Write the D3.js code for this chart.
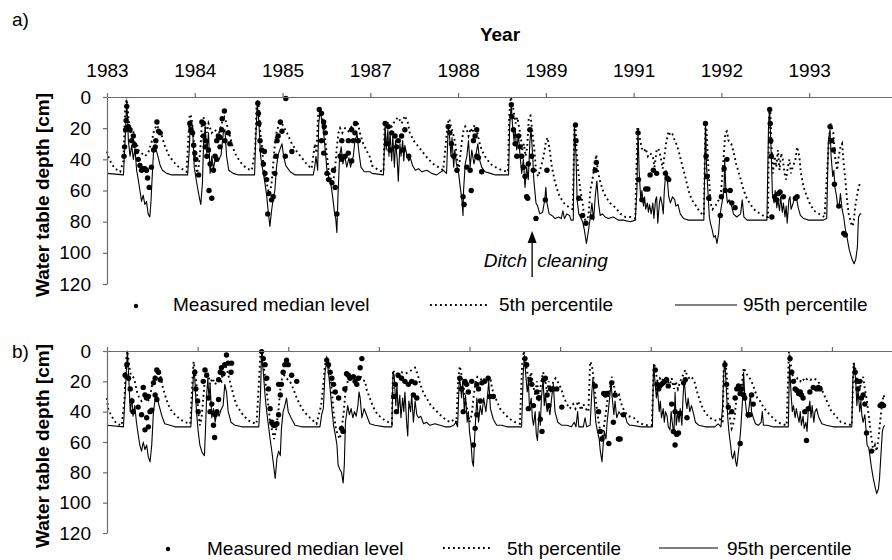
<!DOCTYPE html>
<html><head><meta charset="utf-8">
<script src="https://cdn.jsdelivr.net/npm/d3@7"></script>
<style>
body{margin:0;background:#fff}
svg text{font-family:"Liberation Sans",Arial,Helvetica,sans-serif;fill:#000}
</style>
</head><body>
<svg id="chart" width="892" height="560"></svg>
<script>
// ---------- DATA (x = months since Jan 1983, y = water table depth in cm) ----------
const tickMonths = [0,16,32,48,64,80,96,112,128];
const tickLabels = ["1983","1984","1985","1987","1988","1989","1991","1992","1993"];
const depthTicks = [0,20,40,60,80,100,120];
const seriesNames = ["Measured median level","5th percentile","95th percentile"];
const ditchMonth = 77.5;

// Panel a) 95th percentile
const p95A = [[0,49],[3.0,50],[3.3,28],[3.6,2],[3.9,28],[4.2,38],[4.5,31],[4.8,40],[5.1,33],[5.4,47],[5.7,53],[6.0,60],[6.3,67],[6.6,63],[6.9,69],[7.2,67],[7.5,75],[7.8,77],[8.0,68],[8.3,47],[8.5,34],[8.8,32],[9.2,37],[9.7,44],[10.1,47],[10.9,49],[11.8,50],[14.7,50],[15.0,34],[15.2,15],[15.6,19],[15.9,45],[16.4,56],[16.8,64],[17.1,69],[17.4,55],[17.6,30],[17.9,19],[18.2,36],[18.5,23],[18.8,49],[19.1,38],[19.4,46],[19.8,39],[20.3,41],[20.8,37],[21.2,23],[21.5,21],[21.8,38],[22.2,47],[23.0,49],[24.0,50],[26.9,50],[27.1,28],[27.4,4],[27.7,17],[28.0,38],[28.3,45],[28.7,53],[29.1,63],[29.4,74],[29.7,83],[30.0,73],[30.3,65],[30.6,60],[30.9,45],[31.2,37],[31.6,33],[31.9,30],[32.2,38],[32.6,44],[33.4,48],[34.3,50],[37.6,50],[37.9,44],[38.1,38],[38.4,47],[38.6,17],[38.9,8],[39.2,17],[39.5,23],[39.8,35],[40.1,47],[40.5,52],[40.9,58],[41.2,66],[41.5,75],[41.7,78],[41.9,87],[42.1,64],[42.4,38],[42.7,32],[43.0,43],[43.3,37],[43.7,45],[44.1,39],[44.4,45],[44.9,38],[45.2,28],[45.6,24],[45.9,35],[46.3,45],[46.9,48],[48.0,48],[48.3,49],[50.4,50],[50.7,17],[50.9,34],[51.2,21],[51.4,38],[51.6,23],[51.9,41],[52.1,25],[52.4,45],[52.6,28],[52.9,40],[53.1,54],[53.4,30],[53.6,38],[53.9,28],[54.1,41],[54.3,31],[54.7,38],[55.0,41],[55.3,39],[55.7,44],[56.2,47],[56.8,46],[57.4,48],[58.3,47],[59.2,49],[60.1,50],[61.3,47],[61.9,49],[62.2,19],[62.4,23],[62.7,38],[62.9,26],[63.2,45],[63.4,34],[63.7,43],[64.1,49],[64.4,58],[64.7,66],[64.9,76],[65.0,60],[65.3,43],[65.6,38],[65.9,28],[66.2,45],[66.5,34],[66.9,43],[67.2,38],[67.6,30],[67.9,40],[68.3,45],[68.9,48],[69.9,49],[70.8,50],[73.2,50],[73.4,19],[73.7,4],[73.9,17],[74.2,28],[74.4,21],[74.7,34],[75.0,24],[75.3,38],[75.6,49],[75.9,40],[76.2,58],[76.5,45],[76.8,53],[77.1,28],[77.3,21],[77.6,38],[77.8,53],[78.2,68],[78.5,70],[78.9,75],[79.4,74],[79.8,66],[80.0,58],[80.2,68],[80.6,75],[81.1,76],[81.7,78],[82.3,77],[82.8,78],[83.1,73],[83.4,78],[83.8,75],[84.3,76],[84.6,79],[85.0,79],[85.2,19],[85.5,38],[85.7,66],[86.0,75],[86.3,77],[86.7,80],[87.0,85],[87.4,94],[87.8,85],[88.1,77],[88.4,68],[88.7,79],[89.0,64],[89.3,54],[89.6,68],[89.9,76],[90.3,75],[90.8,77],[91.4,78],[92.3,77],[93.2,79],[94.1,79],[95.4,80],[96.3,79],[96.6,60],[96.8,21],[97.0,47],[97.3,66],[97.5,60],[97.8,70],[98.0,64],[98.2,72],[98.5,68],[98.7,74],[98.9,69],[99.2,75],[99.5,68],[99.7,78],[100.0,66],[100.2,64],[100.4,81],[100.7,68],[100.9,64],[101.2,69],[101.4,75],[101.6,60],[101.9,47],[102.1,51],[102.4,64],[102.7,68],[103.1,64],[103.5,66],[103.7,70],[104.1,69],[104.5,75],[105.1,78],[106.0,79],[108.8,79],[109.1,17],[109.3,45],[109.6,64],[109.8,77],[110.0,81],[110.3,85],[110.6,90],[110.9,89],[111.2,94],[111.5,87],[111.7,77],[112.0,70],[112.2,66],[112.5,58],[112.6,40],[112.8,58],[113.1,68],[113.4,66],[113.8,69],[114.2,75],[114.8,77],[115.5,75],[115.8,66],[116.1,77],[116.7,79],[120.3,79],[120.6,17],[120.8,8],[121.1,38],[121.3,62],[121.6,68],[121.8,60],[122.1,71],[122.3,66],[122.6,73],[122.8,64],[123.1,74],[123.3,68],[123.6,77],[123.8,70],[124.0,81],[124.3,66],[124.5,64],[124.7,72],[125.0,69],[125.4,64],[125.7,65],[126.0,71],[126.4,76],[127.0,78],[127.9,79],[130.6,79],[131.2,78],[131.5,28],[131.8,21],[132.0,38],[132.3,51],[132.5,47],[132.7,58],[133.0,64],[133.2,70],[133.5,69],[133.7,62],[134.0,72],[134.3,77],[134.6,85],[134.9,90],[135.3,98],[135.8,104],[136.2,107],[136.5,104],[136.8,96],[136.9,85],[137.0,77],[137.3,75],[137.5,75]];

// Panel a) 5th percentile
const p5A = [[0,35],[0.2,38],[0.85,43],[1.5,46],[2.4,48],[3.0,41],[3.3,8],[3.6,0],[3.9,13],[4.2,21],[4.5,25],[4.8,22],[5.1,31],[5.4,29],[5.7,34],[6.3,36],[6.9,38],[7.5,36],[8.2,28],[8.6,21],[9.1,18],[9.5,21],[10.0,25],[10.6,32],[11.2,37],[11.8,40],[12.7,44],[13.6,46],[14.5,48],[14.8,28],[15.1,11],[15.4,13],[15.7,23],[16.0,38],[16.4,49],[16.7,45],[17.0,34],[17.3,17],[17.6,13],[17.9,19],[18.2,23],[18.5,17],[19.1,23],[19.7,21],[20.3,25],[20.9,17],[21.4,13],[21.8,17],[22.4,25],[23.0,33],[23.6,38],[24.6,43],[25.5,46],[26.4,47],[27.0,34],[27.3,2],[27.6,4],[27.9,21],[28.2,30],[28.5,43],[28.8,51],[29.1,55],[29.4,60],[29.7,62],[30.0,55],[30.3,43],[30.6,30],[30.9,23],[31.2,19],[31.7,16],[32.2,19],[32.8,23],[33.7,30],[34.6,35],[35.5,39],[36.4,43],[37.3,46],[37.9,30],[38.2,36],[38.5,10.5],[38.8,7],[39.1,12],[39.5,17],[39.8,28],[40.1,38],[40.4,47],[40.7,51],[41.0,55],[41.3,53],[41.6,45],[41.9,32],[42.2,23],[42.5,20],[42.9,23],[43.4,20],[44.0,22],[44.6,19],[45.2,17],[45.7,16],[46.1,23],[46.7,30],[47.4,35],[48.0,39],[48.3,44],[49.5,47],[50.4,48],[50.6,19],[50.8,16],[51.3,17],[51.9,19],[52.5,15],[53.1,13],[53.7,17],[54.3,12],[54.8,16],[55.2,23],[55.9,28],[56.8,32],[57.7,36],[58.6,40],[59.5,43],[60.4,45],[61.3,47],[62.1,17],[62.4,14],[62.7,19],[63.2,25],[63.5,30],[63.8,40],[64.1,47],[64.4,38],[64.7,28],[65.0,21],[65.3,19],[65.6,21],[65.9,25],[66.3,20],[66.6,23],[67.0,18],[67.4,21],[67.8,28],[68.3,34],[68.9,38],[69.9,43],[70.8,45],[72.0,47],[73.1,48],[73.3,13],[73.6,0],[73.9,4],[74.2,10.5],[74.5,17],[74.8,13],[75.1,19],[75.4,25],[75.7,34],[76.0,30],[76.3,38],[76.6,32],[76.9,13],[77.2,12],[77.5,21],[77.9,34],[78.2,47],[78.6,51],[79.1,45],[79.6,38],[80.0,29],[80.3,26],[80.7,34],[81.1,45],[81.7,55],[82.3,62],[82.9,66],[83.5,69],[84.3,71],[84.9,72],[85.2,21],[85.4,18],[85.6,34],[86.0,51],[86.3,60],[86.7,68],[87.0,77],[87.4,81],[87.8,75],[88.1,60],[88.5,53],[88.9,43],[89.2,37],[89.4,45],[89.8,53],[90.4,60],[90.9,64],[91.7,68],[92.7,71],[93.6,75],[94.5,77],[95.4,77],[96.3,78],[96.7,19],[96.9,21],[97.2,28],[97.5,33],[97.9,35],[98.2,33],[98.6,38],[99.0,36],[99.5,38],[99.8,45],[100.2,34],[100.5,33],[100.9,38],[101.3,46],[101.6,38],[102.0,28],[102.4,22],[102.7,25],[103.1,24],[103.5,28],[103.9,31],[104.3,36],[104.8,43],[105.4,51],[106.0,60],[106.6,66],[107.4,70],[108.1,74],[108.8,76],[109.1,16],[109.3,21],[109.5,38],[109.8,55],[110.0,68],[110.4,72],[110.8,70],[111.1,69],[111.5,66],[111.9,62],[112.2,49],[112.5,34],[112.7,23],[113.0,22],[113.3,28],[113.8,30],[114.2,35],[114.7,43],[115.3,50],[115.9,58],[116.5,64],[117.3,69],[118.2,73],[119.1,75],[120.0,77],[120.5,77],[120.7,10.5],[120.9,7],[121.1,28],[121.4,49],[121.7,38],[122.0,45],[122.3,34],[122.6,47],[122.9,36],[123.2,40],[123.5,49],[123.8,53],[124.1,45],[124.4,40],[124.7,49],[125.0,45],[125.5,40],[125.8,32],[126.2,38],[126.5,49],[127.0,58],[127.6,64],[128.2,69],[128.9,73],[129.8,75],[130.8,77],[131.6,28],[131.9,17],[132.1,19],[132.4,23],[132.7,38],[133.1,47],[133.4,38],[133.7,32],[134.0,30],[134.3,43],[134.6,53],[134.9,66],[135.2,75],[135.5,79],[135.8,83],[136.1,81],[136.4,70],[136.7,64],[137.0,58],[137.3,55]];

// Panel a) measured median level
const medA = [[3.6,6],[3.5,15],[3.4,21],[3.2,32],[3.1,38],[3.9,19],[4.2,21],[4.5,28],[4.8,25],[5.0,31],[5.4,35],[5.7,40],[6.0,44],[6.3,47],[6.6,46],[6.9,46],[7.2,47],[7.4,52],[7.7,58],[8.1,45],[8.5,34],[8.8,32],[8.9,28],[9.1,16],[9.4,22],[9.7,23],
[15.1,17],[15.3,21],[15.6,23],[15.8,31],[16.0,36],[16.2,40],[16.7,50],[17.3,16],[17.6,17],[17.6,25],[17.9,28],[17.9,32],[18.2,38],[18.5,34],[18.8,43],[18.6,60],[19.1,65],[19.4,47],[19.7,38],[20.0,28],[20.3,25],[20.6,26],[20.9,21],[21.0,14],[21.4,9],[21.5,28],[22.1,23],[22.4,30],[20.0,40],[20.6,32],
[27.5,4],[27.6,10.5],[27.7,17],[27.9,28],[28.2,34],[28.5,43],[28.7,35],[28.8,49],[29.1,53],[29.3,75],[29.5,62],[30.0,66],[30.3,64],[30.6,49],[30.8,38],[31.0,28],[31.2,25],[31.6,16],[31.9,22],[32.5,38],[33.7,35],[32.6,1],
[38.7,8],[39.1,10.5],[39.5,16],[39.6,19],[39.8,23],[39.1,28],[39.5,36],[40.1,49],[40.4,53],[41.0,55],[41.3,47],[41.6,58],[41.9,75],[42.5,38],[42.8,40],[43.4,38],[44.0,36],[44.6,41],[44.9,28],[45.2,23],[45.3,17],[44.6,21],[44.0,28],[45.8,28],[42.8,28],
[50.7,17],[51.3,19],[51.9,23],[52.5,25],[53.1,28],[53.7,25],[54.3,21],[55.0,38],[51.0,30],[51.6,34],[52.8,32],[54.0,34],
[62.2,19],[62.5,23],[62.8,30],[63.2,38],[63.8,47],[64.9,64],[65.1,69],[66.4,60],[66.2,47],[66.8,28],[67.1,25],[67.4,21],[67.7,39],[68.3,48],[65.6,45],[67.4,38],
[73.7,5],[73.8,12.6],[74.1,21],[74.4,30],[74.7,38],[75.0,25],[75.3,32],[75.6,38],[75.9,45],[76.2,51],[76.5,64],[76.8,43],[77.1,21],[77.4,38],[77.7,47],[78.2,78],[80.2,47],[79.9,66],[76.7,65],
[85.4,18],[85.5,28],[86.0,65],[86.7,76],[87.3,81],[89.0,47],[89.2,42],[88.4,77],
[96.8,23],[96.9,53],[97.5,66],[98.2,59],[98.6,59],[99.0,50],[99.6,47],[100.2,49],[101.8,49],[102.1,52],[102.4,53],
[109.1,17],[109.2,38],[109.4,51],[109.7,65],[111.8,76],[112.0,64],[112.5,46],[112.7,60],[113.0,40],[113.6,60],[113.9,68],[114.5,71],
[120.8,8],[120.9,17],[121.0,28],[121.1,38],[121.2,77],[121.7,64],[122.1,66],[122.4,62],[122.7,61],[123.3,64],[125.5,65],[125.8,64],
[131.8,19],[132.1,28],[132.4,34],[132.6,56],[133.4,70],[134.3,87.5],[134.6,88.5]];

// Panel b) 95th percentile
const p95B = [[0,49],[2.9,50],[3.2,29],[3.6,0],[3.9,22],[4.1,40],[4.4,31],[4.6,43],[4.9,36],[5.2,47],[5.5,55],[5.8,62],[6.1,66],[6.4,60],[6.7,65],[7.0,62],[7.3,70],[7.6,73],[7.9,62],[8.2,40],[8.5,32],[8.8,30],[9.2,36],[9.7,43],[10.2,48],[11.1,49],[12.0,50],[14.8,50],[15.1,29],[15.3,12.5],[15.5,18],[15.8,40],[16.1,53],[16.4,62],[16.8,67],[17.2,69],[17.4,51],[17.6,29],[17.8,18],[18.0,31],[18.2,22],[18.5,44],[18.8,38],[19.1,47],[19.4,40],[19.8,43],[20.1,39],[20.5,36],[20.8,22],[21.1,27],[21.4,40],[21.9,47],[22.6,49],[23.8,50],[26.8,50],[27.1,29],[27.3,0.4],[27.6,14],[27.9,29],[28.2,40],[28.5,49],[28.8,58],[29.1,66],[29.4,75],[29.7,84],[30.0,71],[30.3,66],[30.6,69],[30.8,51],[31.1,40],[31.4,36],[31.7,31],[32.0,40],[32.5,44],[33.2,49],[34.4,50],[37.6,50],[37.9,42],[38.2,38],[38.5,14],[38.8,6],[39.1,14],[39.4,25],[39.7,38],[40.0,49],[40.3,55],[40.6,62],[40.8,75],[41.1,78],[41.4,80],[41.7,87],[41.9,75],[42.1,47],[42.5,36],[42.8,42],[43.1,38],[43.4,44],[43.7,40],[44.0,43],[44.3,36],[44.5,27],[44.7,31],[45.0,44],[45.4,38],[45.9,43],[46.4,48],[47.3,49],[49.1,50],[50.3,50],[50.5,14],[50.7,16],[51.0,36],[51.2,22],[51.4,40],[51.7,29],[51.9,44],[52.2,31],[52.4,40],[52.6,27],[52.9,47],[53.1,56],[53.3,33],[53.6,40],[53.8,29],[54.1,47],[54.4,33],[54.7,42],[55.0,44],[55.4,43],[55.9,48],[56.4,47],[57.0,49],[57.9,48],[58.8,49],[59.7,50],[60.6,50],[61.2,49],[61.6,47],[61.9,50],[62.2,18],[62.4,22],[62.6,31],[62.8,20],[63.1,40],[63.3,29],[63.6,47],[63.8,40],[64.0,53],[64.3,62],[64.5,73],[64.7,76],[64.9,58],[65.1,44],[65.3,31],[65.6,47],[65.9,36],[66.2,42],[66.5,31],[66.9,40],[67.2,29],[67.4,20],[67.7,38],[68.2,45],[68.8,49],[69.7,49],[70.6,50],[73.2,50],[73.5,14],[73.7,3],[73.9,14],[74.2,27],[74.4,20],[74.6,38],[74.9,31],[75.1,44],[75.3,49],[75.6,40],[75.8,55],[76.0,59],[76.3,40],[76.5,49],[76.7,31],[77.0,18],[77.2,36],[77.4,29],[77.7,40],[77.9,36],[78.2,42],[78.5,31],[78.8,22],[79.1,40],[79.6,47],[80.3,49],[81.2,49],[82.0,50],[82.5,47],[82.8,50],[83.1,40],[83.3,50],[84.1,50],[84.4,44],[84.7,50],[85.3,49],[85.6,27],[85.8,18],[86.1,36],[86.3,47],[86.6,53],[86.9,58],[87.1,66],[87.4,73],[87.6,62],[87.8,53],[88.1,58],[88.3,47],[88.5,40],[88.8,29],[89.0,20],[89.2,31],[89.5,42],[89.7,33],[90.0,44],[90.4,40],[90.9,43],[91.4,41],[91.8,47],[92.3,49],[92.6,49],[94.4,50],[96.3,50],[96.5,9],[96.8,22],[97.0,31],[97.2,25],[97.5,40],[97.7,33],[97.9,44],[98.2,38],[98.4,47],[98.6,40],[98.9,43],[99.1,50],[99.4,52],[99.6,40],[99.8,47],[100.1,55],[100.3,27],[100.5,49],[100.8,40],[101.0,47],[101.2,38],[101.5,49],[101.7,31],[101.9,18],[102.2,33],[102.4,38],[102.6,31],[102.9,40],[103.2,36],[103.6,42],[103.9,47],[104.5,49],[105.6,50],[107.3,50],[107.9,48],[108.4,50],[108.7,36],[108.9,14],[109.1,7],[109.4,29],[109.6,44],[109.8,53],[110.1,62],[110.3,69],[110.5,71],[110.8,66],[111.0,73],[111.2,76],[111.5,66],[111.7,60],[111.9,51],[112.2,33],[112.4,14],[112.6,29],[112.9,40],[113.1,44],[113.4,36],[113.6,29],[113.8,40],[114.1,44],[114.5,48],[115.0,49],[115.5,47],[115.7,40],[115.9,49],[116.5,49],[117.6,50],[120.3,50],[120.5,9],[120.8,29],[121.0,40],[121.2,36],[121.5,44],[121.7,38],[121.9,42],[122.2,47],[122.4,40],[122.6,49],[122.9,43],[123.1,51],[123.4,47],[123.6,53],[123.8,40],[124.1,33],[124.3,44],[124.5,36],[124.8,47],[125.0,40],[125.3,38],[125.6,43],[126.2,48],[127.0,49],[128.2,50],[131.5,50],[131.7,18],[131.9,8],[132.2,20],[132.4,36],[132.6,25],[132.9,40],[133.1,33],[133.3,43],[133.5,47],[133.8,42],[134.0,51],[134.2,62],[134.5,64],[134.7,69],[134.9,75],[135.2,82],[135.4,86],[135.7,91],[135.9,94],[136.2,91],[136.4,84],[136.6,71],[136.9,53],[137.1,50],[137.3,49]];

// Panel b) 5th percentile
const p5B = [[0,31],[0.2,38],[0.8,43],[1.7,48],[2.6,49],[3.1,31],[3.4,5],[3.6,0],[3.9,9],[4.2,16],[4.6,17],[4.9,20],[5.3,27],[5.7,31],[6.1,33],[6.6,31],[7.1,33],[7.5,32],[8.0,22],[8.5,16],[8.9,12.5],[9.4,16],[9.9,25],[10.5,32],[11.1,38],[12.0,42],[12.9,45],[13.8,47],[14.7,48],[15.1,18],[15.3,7],[15.5,12.5],[15.8,22],[16.1,40],[16.4,49],[16.7,44],[17.0,31],[17.3,18],[17.6,12.5],[17.9,16],[18.2,22],[18.6,18],[19.1,22],[19.7,18],[20.2,20],[20.6,11],[20.9,9],[21.3,14],[21.7,20],[22.3,29],[22.9,36],[23.8,41],[24.7,45],[25.5,47],[26.4,48],[26.8,22],[27.1,0],[27.4,2.6],[27.8,14],[28.1,25],[28.5,36],[28.8,47],[29.2,53],[29.5,58],[29.9,51],[30.3,38],[30.6,25],[30.9,18],[31.3,16],[31.7,18],[32.3,20],[32.9,25],[33.5,31],[34.4,38],[35.3,42],[36.1,45],[37.0,48],[37.8,36],[38.2,22],[38.5,9],[38.8,5],[39.1,9],[39.4,16],[39.7,27],[40.0,40],[40.4,51],[40.7,55],[41.1,58],[41.4,53],[41.8,40],[42.1,27],[42.5,20],[42.9,16],[43.3,18],[43.8,20],[44.3,17],[44.7,16],[45.1,19],[45.6,20],[45.8,25],[46.4,31],[47.0,37],[47.8,42],[48.8,45],[49.7,47],[50.3,48],[50.5,12.5],[50.8,15],[51.4,15],[52.0,14],[52.6,15],[53.2,14],[53.8,12.5],[54.4,11],[54.9,16],[55.3,22],[55.9,28],[56.4,31],[57.2,36],[58.0,39],[58.8,42],[59.7,45],[60.6,47],[61.3,45],[61.7,47],[62.0,18],[62.3,10],[62.6,16],[63.0,25],[63.3,33],[63.7,40],[64.0,47],[64.4,42],[64.7,31],[65.1,20],[65.4,17],[65.9,18],[66.3,20],[66.7,18],[67.2,17],[67.7,18],[68.0,25],[68.6,31],[69.4,38],[70.3,42],[71.2,45],[72.1,47],[72.9,48],[73.3,9],[73.6,0],[73.8,5],[74.2,14],[74.5,20],[74.9,14],[75.2,22],[75.6,29],[75.9,20],[76.3,33],[76.6,22],[77.0,14],[77.3,18],[77.7,27],[78.0,20],[78.4,27],[78.8,20],[79.2,18],[79.7,21],[80.2,25],[80.6,30],[81.2,35],[81.7,38],[82.3,35],[82.7,38],[83.2,33],[83.7,39],[84.1,35],[84.5,38],[85.0,40],[85.3,7],[85.6,9],[85.9,18],[86.2,29],[86.5,38],[86.8,47],[87.1,53],[87.4,58],[87.7,51],[88.1,40],[88.4,31],[88.8,25],[89.1,17],[89.4,20],[89.7,27],[90.1,31],[90.4,29],[90.9,36],[91.4,40],[92.1,43],[93.0,44],[93.8,47],[95.0,49],[96.2,49],[96.5,14],[96.6,8],[96.9,14],[97.2,20],[97.6,18],[97.9,20],[98.3,18],[98.6,17],[99.0,20],[99.4,22],[99.7,18],[100.1,25],[100.4,20],[100.8,25],[101.2,20],[101.7,16],[102.1,12.5],[102.4,16],[102.8,18],[103.2,17],[103.7,20],[104.2,27],[104.6,32],[105.2,38],[105.9,42],[106.8,45],[107.7,46],[108.2,45],[108.7,47],[108.9,9],[109.1,6],[109.4,14],[109.6,29],[109.8,40],[110.1,47],[110.3,51],[110.5,49],[110.8,44],[111.0,36],[111.2,31],[111.5,29],[111.7,27],[112.1,22],[112.4,11],[112.8,14],[113.2,17],[113.5,18],[113.8,20],[114.3,25],[114.8,31],[115.3,33],[115.9,37],[116.5,40],[117.3,43],[118.1,46],[119.0,48],[120.0,49],[120.4,0.4],[120.6,5],[120.9,14],[121.2,18],[121.6,20],[121.9,18],[122.4,20],[122.8,18],[123.2,20],[123.7,18],[124.2,19],[124.7,18],[125.3,19],[125.9,22],[126.5,28],[127.1,33],[127.8,39],[128.7,43],[129.6,47],[130.6,48],[131.5,49],[131.8,8],[132.1,11],[132.4,20],[132.6,18],[132.9,25],[133.2,20],[133.5,17],[133.8,25],[134.1,31],[134.4,40],[134.7,49],[135.0,58],[135.3,66],[135.6,62],[135.9,66],[136.2,58],[136.5,47],[136.8,36],[137.1,29],[137.4,32]];

// Panel b) measured median level
const medB = [[3.2,16],[3.5,9],[3.8,18],[4.1,25],[4.4,33],[4.6,40],[6.4,24],[6.7,29],[7.0,31],[7.3,30],[7.6,40],[7.0,44],[6.7,52],[7.3,50],[7.9,39],[8.5,29],[8.8,32],[8.2,21],[8.5,18],[8.8,12.5],[9.1,14],[9.4,19],[6.1,42],[5.5,37],
[15.5,14],[15.7,25],[16.0,33],[16.1,40],[17.0,20],[17.3,12.5],[17.6,16],[17.9,31],[18.2,40],[18.8,49],[19.0,57],[19.1,42],[19.4,40],[19.7,19],[20.0,14],[20.2,11],[20.5,15],[20.8,9],[21.1,2.6],[21.4,8],[21.9,14],[22.0,8],[19.7,32],[18.5,35],
[27.3,0.4],[27.6,5],[27.9,9],[28.2,18],[28.5,25],[28.8,38],[29.1,47],[29.4,49],[29.7,49],[30.0,48],[30.3,42],[30.6,29],[30.8,22],[31.1,14],[31.4,9],[31.7,6],[32.0,9],[32.6,16],[33.5,20],[30.3,22],
[38.8,6],[39.1,9],[39.4,14],[39.7,18],[40.0,22],[40.3,27],[40.9,31],[41.4,51],[41.7,53],[42.0,25],[42.3,15],[42.6,16],[42.9,18],[44.1,22],[44.4,18],[44.7,11],[45.0,5],[43.5,17],[43.8,20],
[50.6,30],[50.9,22],[51.4,16],[52.0,18],[52.6,20],[53.2,22],[53.8,20],[54.4,21],[54.7,31],[54.1,29],[51.1,40],
[62.3,18],[62.6,25],[62.9,40],[63.2,20],[63.5,22],[63.8,27],[64.4,20],[64.7,62],[65.0,51],[65.3,22],[65.6,25],[65.9,33],[66.2,21],[66.7,20],[67.3,18],[67.6,30],[68.2,30],[65.3,42],
[73.8,5],[74.1,9],[74.4,38],[74.7,19],[75.0,22],[75.3,36],[75.9,27],[76.2,31],[76.5,45],[76.8,53],[77.1,19],[77.4,18],[77.7,29],[78.0,36],[78.3,25],[78.8,25],[79.4,25],[80.3,37],
[86.2,23],[86.8,40],[87.1,53],[87.4,58],[87.7,28],[88.0,29],[88.3,28],[88.6,61],[89.1,21],[89.4,47],[90.3,58],[90.6,58],[91.2,42],[89.7,29],
[96.8,12.5],[97.1,22],[97.4,25],[97.6,23],[97.9,22],[98.2,21],[98.5,20],[98.8,19],[99.1,23],[99.7,35],[100.0,53],[100.3,62],[100.6,55],[100.9,54],[101.2,41],[101.8,21],[102.1,19],[102.4,44],[100.3,40],
[109.1,9],[109.4,22],[109.7,37],[110.3,40],[110.9,31],[111.2,25],[111.5,23],[111.8,28],[112.0,25],[112.4,29],[112.6,31],[113.2,42],[113.5,42],[113.8,29],[114.1,35],[111.8,61],
[120.6,5],[120.9,14],[121.2,20],[121.5,25],[121.8,26],[122.1,28],[122.4,27],[122.6,29],[122.9,31],[123.2,40],[123.5,59],[123.8,38],[124.1,27],[124.7,24],[125.3,25],[125.6,24],[125.9,25],
[132.1,14],[132.4,20],[132.6,25],[132.9,20],[133.2,31],[133.5,29],[133.8,35],[134.1,54],[136.5,36],[136.8,35],[137.1,36],[135.0,66]];

// ---------- LAYOUT ----------
const FONT = 19;
const panels = [
  {label:"a)", labelY:26, p95:p95A, p5:p5A, med:medA, xMax:143.1, yTop:97, yBot:284,
   showLabels:true, titleY:195,
   legendY:305, legendTextY:311, legDot:136, legText1:173, legDot1:430, legDot2:490, legText2:499, legSol1:675, legSol2:737, legText3:743},
  {label:"b)", labelY:358, p95:p95B, p5:p5B, med:medB, xMax:138.6, yTop:351, yBot:533,
   showLabels:false, titleY:446,
   legendY:548, legendTextY:555, legDot:168, legText1:207, legDot1:443, legDot2:493, legText2:507, legSol1:659, legSol2:718, legText3:727}
];
const LEFT = 107, RIGHT = 892;
const AXIS_COLOR = "#6b6b6b";
const DASH = "1.8,3.2";

const svg = d3.select("#chart");

svg.append("text").attr("x",500).attr("y",41).attr("text-anchor","middle")
  .attr("font-size",FONT).attr("font-weight","bold").text("Year");

panels.forEach((p, pi) => {
  const x = d3.scaleLinear().domain([0,p.xMax]).range([LEFT,RIGHT]);
  const y = d3.scaleLinear().domain([0,120]).range([p.yTop,p.yBot]);
  const g = svg.append("g");

  // panel label
  g.append("text").attr("x",12).attr("y",p.labelY).attr("font-size",FONT).text(p.label);

  // y title
  g.append("text").attr("transform",`translate(49,${p.titleY}) rotate(-90)`)
    .attr("text-anchor","middle").attr("font-size",FONT).attr("font-weight","bold")
    .text("Water table depth [cm]");

  // series
  const line = d3.line().x(d=>x(d[0])).y(d=>y(d[1]));
  const sortByX = arr => arr.slice().sort((a,b)=>a[0]-b[0]);
  g.append("path").datum(sortByX(p.p95)).attr("d",line)
    .attr("fill","none").attr("stroke","#000").attr("stroke-width",1.1).attr("stroke-linejoin","round");
  g.append("path").datum(sortByX(p.p5)).attr("d",line)
    .attr("fill","none").attr("stroke","#000").attr("stroke-width",1.9).attr("stroke-dasharray",DASH);
  g.selectAll("circle.med").data(p.med).join("circle").attr("class","med")
    .attr("cx",d=>x(d[0])).attr("cy",d=>y(d[1])).attr("r",2.7).attr("fill","#000");

  // axes
  const xAxis = d3.axisTop(x).tickValues(tickMonths)
    .tickFormat((d,i)=> p.showLabels ? tickLabels[i] : "")
    .tickSizeInner(4).tickSizeOuter(0).tickPadding(16);
  const gx = g.append("g").attr("transform",`translate(0,${p.yTop})`).call(xAxis);
  const yAxis = d3.axisLeft(y).tickValues(depthTicks).tickSizeInner(4).tickSizeOuter(0).tickPadding(12);
  const gy = g.append("g").attr("transform",`translate(${LEFT},0)`).call(yAxis);
  [gx,gy].forEach(a=>{
    a.selectAll("path,line").attr("stroke",AXIS_COLOR).attr("stroke-width",1.2);
    a.selectAll("text").attr("font-size",FONT).attr("font-family",'"Liberation Sans",Arial,sans-serif').attr("fill","#000");
  });

  // legend
  const lg = g.append("g");
  lg.append("circle").attr("cx",p.legDot).attr("cy",p.legendY+1).attr("r",2.2).attr("fill","#000");
  lg.append("text").attr("x",p.legText1).attr("y",p.legendTextY).attr("font-size",FONT).text(seriesNames[0]);
  lg.append("line").attr("x1",p.legDot1).attr("x2",p.legDot2).attr("y1",p.legendY).attr("y2",p.legendY)
    .attr("stroke","#000").attr("stroke-width",1.9).attr("stroke-dasharray",DASH);
  lg.append("text").attr("x",p.legText2).attr("y",p.legendTextY).attr("font-size",FONT).text(seriesNames[1]);
  lg.append("line").attr("x1",p.legSol1).attr("x2",p.legSol2).attr("y1",p.legendY).attr("y2",p.legendY)
    .attr("stroke","#000").attr("stroke-width",1.1);
  lg.append("text").attr("x",p.legText3).attr("y",p.legendTextY).attr("font-size",FONT).text(seriesNames[2]);

  // ditch cleaning annotation (panel a only)
  if (pi === 0) {
    const ax = x(ditchMonth);
    const yBase = y(115.5), yTip = y(86);
    g.append("line").attr("x1",ax).attr("x2",ax).attr("y1",yBase).attr("y2",yTip+10)
      .attr("stroke","#000").attr("stroke-width",1.3);
    g.append("path").attr("d",`M${ax},${yTip} L${ax-4.5},${yTip+12} L${ax+4.5},${yTip+12} Z`).attr("fill","#000");
    g.append("text").attr("x",ax-5).attr("y",y(109)).attr("text-anchor","end")
      .attr("font-size",FONT).attr("font-style","italic").text("Ditch");
    g.append("text").attr("x",ax+5).attr("y",y(109)).attr("text-anchor","start")
      .attr("font-size",FONT).attr("font-style","italic").text("cleaning");
  }
});
</script>
</body></html>
